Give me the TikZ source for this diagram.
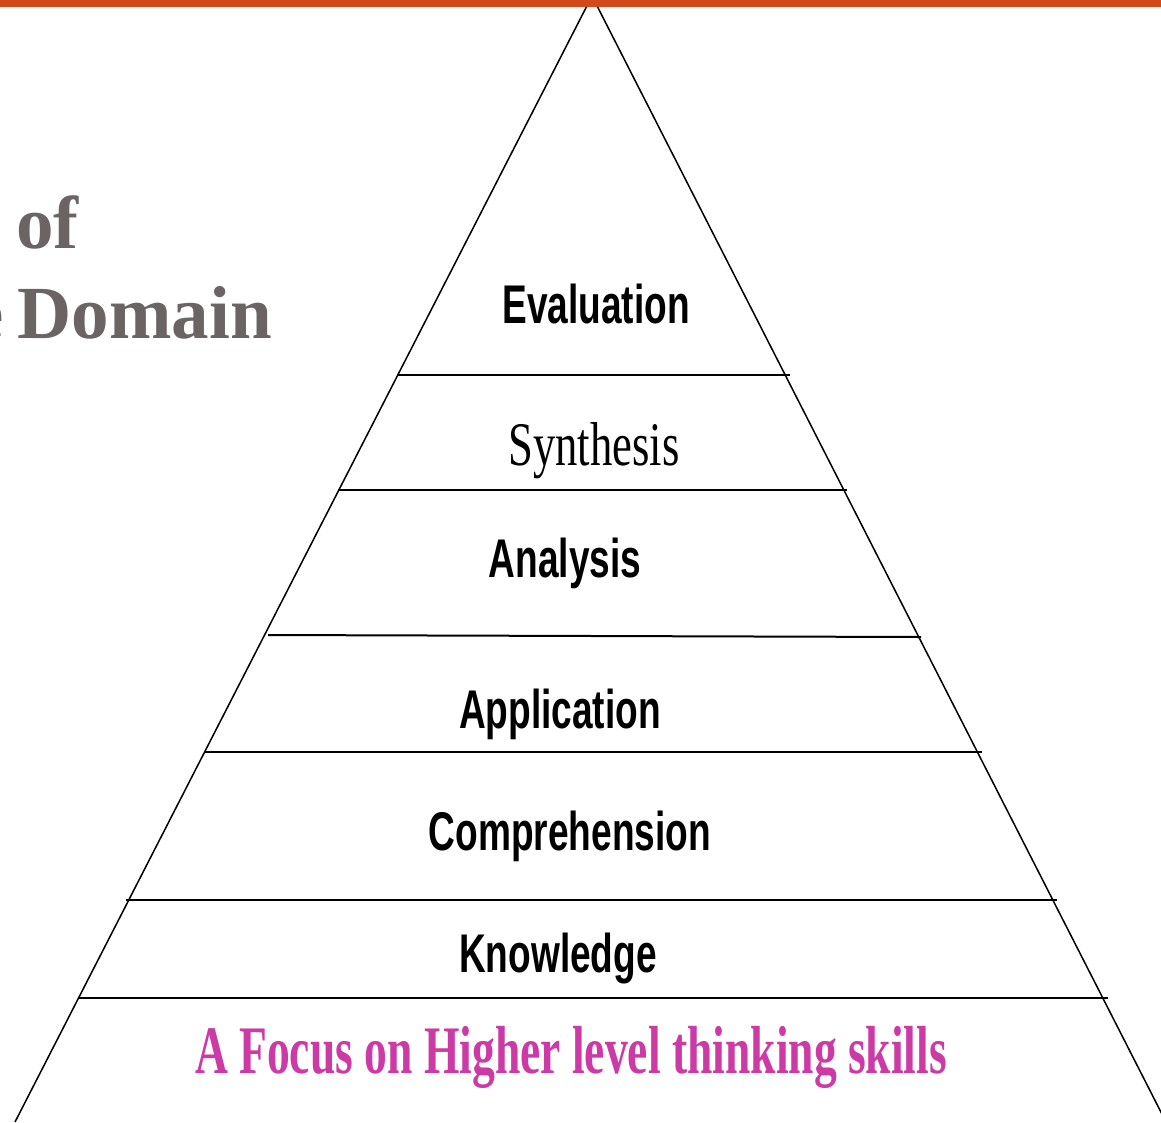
\documentclass[tikz,border=0pt]{standalone}
\usepackage{fontspec}
\setmainfont{Liberation Serif}
\newfontfamily\levelfont{Liberation Sans}[FakeStretch=0.68]
\newfontfamily\synthfont{Liberation Serif}[FakeStretch=0.72]
\newfontfamily\focusfont{Liberation Serif}[FakeStretch=0.67]
\definecolor{barorange}{RGB}{210,74,26}
\definecolor{titlegray}{RGB}{106,101,100}
\definecolor{focusmagenta}{RGB}{204,58,166}
\tikzset{
  level/.style={inner sep=0, anchor=base, font=\levelfont\bfseries\fontsize{54.5}{60}\selectfont},
  title/.style={inner sep=0, anchor=base east, text=titlegray, font=\bfseries\fontsize{75}{80}\selectfont},
  side/.style={line width=1.5pt},
  tier/.style={line width=2pt}
}
\begin{document}
\begin{tikzpicture}[x=1pt,y=-1pt]
\useasboundingbox (0,0) rectangle (1161,1122);
\clip (0,0) rectangle (1161,1122);
\coordinate (apex) at (592,-4);
\coordinate (bl) at (15,1122);
\coordinate (br) at (1166,1122);
\coordinate (a1) at (398,375);
\coordinate (b1) at (790,375);
\coordinate (a2) at (338,490);
\coordinate (b2) at (847,490);
\coordinate (a3) at (268,635);
\coordinate (b3) at (921,637);
\coordinate (a4) at (204,752);
\coordinate (b4) at (982,752);
\coordinate (a5) at (126,900);
\coordinate (b5) at (1057,900);
\coordinate (a6) at (79,998);
\coordinate (b6) at (1108,998);
% draws sides
\draw[side] (apex) -- (bl);
\draw[side] (apex) -- (br);
% draws tiers
\foreach \i in {1,...,6}
  \draw[tier] (a\i) -- (b\i);
% top bar
\fill[barorange] (0,0) rectangle (1161,7);
% labels tiers
\node[level] (eval) at (596,323) {Evaluation};
\node[inner sep=0, anchor=base, font=\synthfont\fontsize{62}{66}\selectfont] (synth) at (594,465) {Synthesis};
\node[level] (anal) at (565,577) {Analysis};
\node[level] (appl) at (560,728) {Application};
\node[level] (comp) at (570,850) {Comprehension};
\node[level] (know) at (558,972) {Knowledge};
\node[inner sep=0, anchor=base, text=focusmagenta, font=\focusfont\bfseries\fontsize{68}{72}\selectfont] (focus) at (571,1073) {A Focus on Higher level thinking skills};
% title pieces
\node[title] (of) at (79,248) {of};
\node[title] (domain) at (272,338) {e\kern14pt Domain};
\end{tikzpicture}
\end{document}
